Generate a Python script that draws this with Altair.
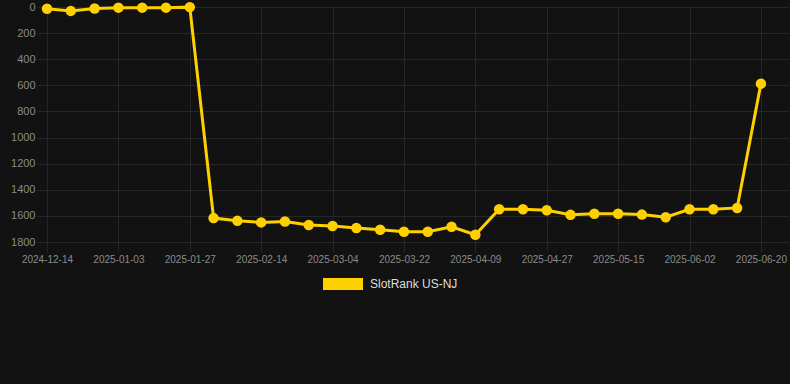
import altair as alt
import pandas as pd
from altair.utils.html import TEMPLATES

dates = [
    "2024-12-14", "2024-12-20", "2024-12-27", "2025-01-03", "2025-01-11",
    "2025-01-19", "2025-01-27", "2025-02-02", "2025-02-08", "2025-02-14",
    "2025-02-20", "2025-02-26", "2025-03-04", "2025-03-10", "2025-03-16",
    "2025-03-22", "2025-03-28", "2025-04-03", "2025-04-09", "2025-04-15",
    "2025-04-21", "2025-04-27", "2025-05-03", "2025-05-09", "2025-05-15",
    "2025-05-21", "2025-05-27", "2025-06-02", "2025-06-08", "2025-06-14",
    "2025-06-20",
]
ranks = [
    13, 30, 12, 5, 5, 5, 1, 1617, 1638, 1650, 1643, 1670, 1678, 1693, 1706,
    1721, 1721, 1683, 1744, 1549, 1549, 1557, 1592, 1584, 1584, 1590, 1610,
    1549, 1549, 1539, 587,
]
series_name = "SlotRank US-NJ"
y_ticks = [0, 200, 400, 600, 800, 1000, 1200, 1400, 1600, 1800]
x_label_dates = dates[::3]

df = pd.DataFrame({"date": dates, "rank": ranks, "series": series_name})

BG = "#121212"
GRID = "#262626"
GOLD = "#FFD000"

x = alt.X(
    "date:O",
    sort=None,
    scale=alt.Scale(type="point", padding=0.59, align=0),
    axis=alt.Axis(
        values=x_label_dates, labelAngle=0, title=None, grid=True,
        gridColor=GRID, tickColor=GRID, tickSize=10, domain=False,
        labelColor="#8a8a8a", labelFontSize=10, labelPadding=2,
        labelFont="Liberation Sans",
    ),
)
y = alt.Y(
    "rank:Q",
    scale=alt.Scale(domain=[0, 1800], reverse=True, nice=False, zero=False),
    axis=alt.Axis(
        values=y_ticks, format="d", title=None, grid=True, gridColor=GRID,
        tickColor=GRID, tickSize=10, domain=False, labelColor="#8a8a8a",
        labelFontSize=11, labelPadding=2, labelFont="Liberation Sans",
    ),
)
color = alt.Color(
    "series:N",
    scale=alt.Scale(domain=[series_name], range=[GOLD]),
    legend=alt.Legend(
        title=None, orient="none", legendX=276, legendY=257,
        symbolType="M-1,-0.3L1,-0.3L1,0.3L-1,0.3Z", symbolSize=1600,
        symbolStrokeWidth=0, labelColor="#dddddd", labelFontSize=12,
        labelFont="Liberation Sans", padding=0, labelOffset=7,
    ),
)

base = alt.Chart(df)
line = base.mark_line(strokeWidth=3, color=GOLD).encode(x=x, y=y, color=color)
pts = base.mark_circle(size=110, opacity=1, color=GOLD).encode(x=x, y=y, color=color)

chart = (
    alt.layer(line, pts)
    .properties(
        width=742, height=235,
        autosize=alt.AutoSizeParams(type="none"),
        padding={"left": 47, "top": 7, "right": 1, "bottom": 142},
        background=BG,
    )
    .configure_view(stroke=None)
)


class DarkPageTemplate:
    """Standard Altair page; the chart itself fills the whole window."""

    def render(self, **kw):
        html = TEMPLATES["standard"].render(**kw)
        style = (
            "<style>html,body{background:%s;margin:0;padding:0;overflow:hidden;}"
            ".vega-embed svg{flex-shrink:0;}</style>" % BG
        )
        if "</head>" in html:
            return html.replace("</head>", style + "</head>", 1)
        return style + html


chart.save("out.html", embed_options={"renderer": "svg", "actions": False},
           template=DarkPageTemplate())
